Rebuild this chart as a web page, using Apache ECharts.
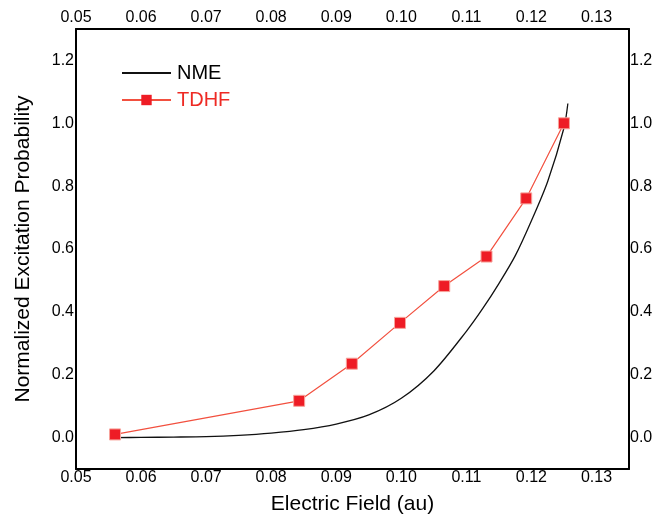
<!DOCTYPE html>
<html>
<head>
<meta charset="utf-8">
<script src="https://cdn.jsdelivr.net/npm/echarts@6/dist/echarts.min.js"></script>
<style>
html,body{margin:0;padding:0;background:#fff;}
#chart{width:656px;height:520px;}
</style>
</head>
<body>
<div id="chart"></div>
<script>
// ---- data ----
const xTickLabels = [0.05, 0.06, 0.07, 0.08, 0.09, 0.10, 0.11, 0.12, 0.13];
const yTickLabels = [0.0, 0.2, 0.4, 0.6, 0.8, 1.0, 1.2];

const nmeX = [0.056, 0.060, 0.065, 0.070, 0.075, 0.080, 0.085, 0.090, 0.095, 0.100, 0.105, 0.110, 0.1125, 0.115, 0.1175, 0.120, 0.1225, 0.125, 0.1256];
const nmeY = [0.000, 0.0005, 0.0015, 0.003, 0.007, 0.014, 0.025, 0.043, 0.072, 0.125, 0.212, 0.338, 0.410, 0.490, 0.578, 0.690, 0.815, 0.985, 1.063];

const tdhfX = [0.056, 0.0843, 0.0924, 0.0998, 0.1066, 0.1131, 0.1192, 0.1250];
const tdhfY = [0.010, 0.117, 0.235, 0.365, 0.482, 0.576, 0.761, 1.000];

const FONT = "'Liberation Sans', Arial, sans-serif";
const chart = echarts.init(document.getElementById('chart'), null, {renderer: 'canvas'});

function xAxisDef(pos) {
  return {
    type: 'value', position: pos, min: 0.05, max: 0.135,
    axisLine: {show: true, onZero: false, lineStyle: {color: '#000', width: 2}},
    axisTick: {show: false},
    splitLine: {show: false},
    axisLabel: {
      customValues: xTickLabels,
      margin: pos === 'top' ? 3 : 1,
      color: '#000', fontSize: 16, fontFamily: FONT,
      formatter: v => v.toFixed(2)
    }
  };
}
function yAxisDef(pos) {
  return {
    type: 'value', position: pos, min: -0.1, max: 1.3,
    axisLine: {show: true, onZero: false, lineStyle: {color: '#000', width: 2}},
    axisTick: {show: false},
    splitLine: {show: false},
    axisLabel: {
      customValues: yTickLabels,
      margin: pos === 'left' ? 2 : 1,
      color: '#000', fontSize: 16, fontFamily: FONT,
      formatter: v => v.toFixed(1)
    }
  };
}

const xBottom = xAxisDef('bottom');
xBottom.name = 'Electric Field (au)';
xBottom.nameLocation = 'middle';
xBottom.nameGap = 25;
xBottom.nameTextStyle = {fontSize: 21, color: '#000', fontFamily: FONT};

const yLeft = yAxisDef('left');
yLeft.name = 'Normalized Excitation Probability';
yLeft.nameLocation = 'middle';
yLeft.nameGap = 42;
yLeft.nameTextStyle = {fontSize: 21, color: '#000', fontFamily: FONT};

const option = {
  animation: false,
  backgroundColor: '#fff',
  grid: {left: 76, right: 27, top: 29, bottom: 47, containLabel: false},
  legend: {
    orient: 'vertical', left: 116, top: 57,
    itemWidth: 49, itemHeight: 13, itemGap: 5,
    textStyle: {fontSize: 20, fontFamily: FONT, lineHeight: 22, padding: [0, 0, 0, 1]},
    data: [
      {name: 'NME', textStyle: {color: '#000'}, itemStyle: {opacity: 0}},
      {name: 'TDHF', textStyle: {color: '#ee2a24'}, itemStyle: {borderWidth: 0}}
    ]
  },
  xAxis: [xBottom, xAxisDef('top')],
  yAxis: [yLeft, yAxisDef('right')],
  series: [
    {
      name: 'NME', type: 'line', smooth: 0.3, symbol: 'none',
      lineStyle: {color: '#111', width: 1.3},
      itemStyle: {color: '#111'},
      data: nmeX.map((x, i) => [x, nmeY[i]]),
      z: 2
    },
    {
      name: 'TDHF', type: 'line', symbol: 'rect', symbolSize: 11,
      lineStyle: {color: '#f2503f', width: 1.2},
      itemStyle: {color: '#ee1c25', borderColor: '#f7a39b', borderWidth: 1},
      data: tdhfX.map((x, i) => [x, tdhfY[i]]),
      z: 3
    }
  ]
};
chart.setOption(option);
</script>
</body>
</html>
